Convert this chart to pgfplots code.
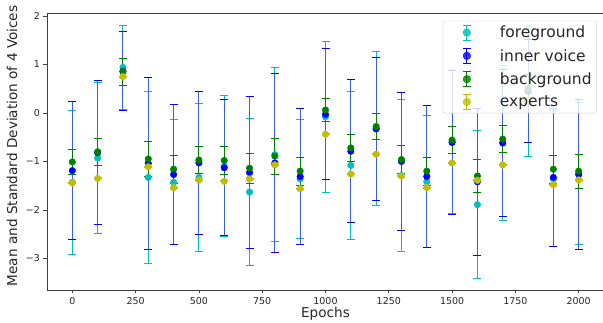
\documentclass[border=0pt]{standalone}
\usepackage{fontspec}
\setmainfont{DejaVu Sans}
\usepackage{pgfplots}
\usepackage{pgfplotstable}
\pgfplotsset{compat=1.18}
\definecolor{mc}{rgb}{0,0.75,0.75}
\definecolor{mb}{rgb}{0,0,1}
\definecolor{mg}{rgb}{0,0.5,0}
\definecolor{my}{rgb}{0.75,0.75,0}
\definecolor{mbl}{rgb}{0.22,0.38,0.88}

\pgfplotstableread{
ep mean std
0 -1.43 1.49
100 -0.93 1.56
200 0.94 0.86
300 -1.33 1.78
400 -1.43 1.29
500 -1.33 1.52
600 -1.10 1.45
700 -1.63 1.51
800 -0.86 1.80
900 -1.36 1.22
1000 -0.08 1.56
1100 -1.08 1.53
1200 -0.32 1.58
1300 -1.29 1.57
1400 -1.42 1.36
1500 -0.60 1.47
1600 -1.89 1.52
1700 -0.62 1.60
1800 0.45 1.35
1900 -1.36 1.40
2000 -1.25 1.46
}\fg

\pgfplotstableread{
ep mean std
0 -1.19 1.42
100 -0.82 1.48
200 0.86 0.81
300 -1.04 1.78
400 -1.27 1.45
500 -1.03 1.48
600 -1.13 1.40
700 -1.23 1.56
800 -1.03 1.85
900 -1.31 1.40
1000 -0.03 1.35
1100 -0.79 1.47
1200 -0.33 1.48
1300 -1.00 1.43
1400 -1.31 1.46
1500 -0.61 1.49
1600 -1.42 1.51
1700 -0.62 1.51
1800 0.45 1.06
1900 -1.33 1.42
2000 -1.27 1.54
}\iv

\pgfplotstableread{
ep mean std
0 -1.01 0.26
100 -0.80 0.28
200 0.85 0.28
300 -0.95 0.37
400 -1.16 0.29
500 -0.97 0.27
600 -0.98 0.28
700 -1.14 0.31
800 -0.89 0.37
900 -1.20 0.29
1000 0.06 0.24
1100 -0.72 0.28
1200 -0.28 0.26
1300 -0.96 0.29
1400 -1.20 0.29
1500 -0.56 0.28
1600 -1.30 0.33
1700 -0.54 0.28
1800 0.50 0.30
1900 -1.16 0.29
2000 -1.20 0.35
}\bg

\pgfplotstableread{
ep mean std
0 -1.44 0.01
100 -1.35 0.01
200 0.75 0.01
300 -1.11 0.01
400 -1.54 0.01
500 -1.38 0.01
600 -1.41 0.01
700 -1.36 0.01
800 -1.07 0.01
900 -1.56 0.01
1000 -0.44 0.01
1100 -1.26 0.01
1200 -0.85 0.01
1300 -1.30 0.01
1400 -1.54 0.01
1500 -1.03 0.01
1600 -1.39 0.01
1700 -1.07 0.01
1800 0.25 0.01
1900 -1.48 0.01
2000 -1.38 0.01
}\ex

\pgfplotsset{
  errleg/.style={legend image code/.code={
    \path[draw=none, fill=none] (0pt,-8pt) rectangle (52pt,8pt);
    \draw[#1, line width=1pt] (21pt,-7.5pt) -- (21pt,7.5pt);
    \draw[#1, line width=1pt] (17pt,-7.5pt) -- (25pt,-7.5pt);
    \draw[#1, line width=1pt] (17pt,7.5pt) -- (25pt,7.5pt);
    \fill[#1] (21pt,0) circle (3.8pt);
  }},
  ser/.style 2 args={color=#1, only marks, mark=*, mark size=3.3pt,
    mark options={fill=#1, draw=#1},
    error bars/.cd, y dir=both, y explicit,
    error bar style={line width=1pt, color=#2},
    error mark options={rotate=90, mark size=4pt, line width=1pt, color=#1},
    /pgfplots/.cd},
}

\begin{document}
\begin{tikzpicture}
\begin{axis}[
  at={(47pt,33pt)}, anchor=south west,
  scale only axis, width=557pt, height=277pt,
  xmin=-100, xmax=2100, ymin=-3.65, ymax=2.06,
  axis line style={black!75, line width=0.8pt},
  tick align=outside, major tick length=3.5pt,
  xtick pos=left, ytick pos=left,
  tick style={black!75, line width=0.8pt},
  xtick={0,250,500,750,1000,1250,1500,1750,2000},
  xticklabels={0,250,500,750,1000,1250,1500,1750,2000},
  ytick={-3,-2,-1,0,1,2},
  yticklabels={−3,−2,−1,0,1,2},
  ticklabel style={font=\fontsize{9.5}{11}\selectfont, text=black!85},
  xlabel={Epochs}, ylabel={Mean and Standard Deviation of 4 Voices},
  label style={font=\fontsize{13.6}{16}\selectfont, text=black!85},
  xlabel style={at={(axis description cs:0.5,-0.0985)}, anchor=base},
  ylabel style={at={(axis description cs:-0.0628,0.52)}, anchor=center, rotate=0},
  legend cell align=left,
  legend style={at={(rel axis cs:0.987,0.972)}, anchor=north east,
    draw=black!18, rounded corners=2.5pt, fill=white, fill opacity=0.8, text opacity=1,
    font=\fontsize{15.5}{18}\selectfont, text=black!85,
    row sep=6pt, inner xsep=3pt, inner ysep=3pt},
]
\addplot[ser={mc}{mc}, errleg={mc}] table[x=ep, y=mean, y error=std]{\fg};
\addlegendentry{foreground}
\addplot[ser={mb}{mbl}, errleg={mb}] table[x=ep, y=mean, y error=std]{\iv};
\addlegendentry{inner voice}
\addplot[ser={mg}{mg}, errleg={mg}] table[x=ep, y=mean, y error=std]{\bg};
\addlegendentry{background}
\addplot[ser={my}{my}, errleg={my}] table[x=ep, y=mean, y error=std]{\ex};
\addlegendentry{experts}
\end{axis}
\pgfresetboundingbox
\useasboundingbox (0,0) rectangle (603pt,323pt);
\end{tikzpicture}
\end{document}
